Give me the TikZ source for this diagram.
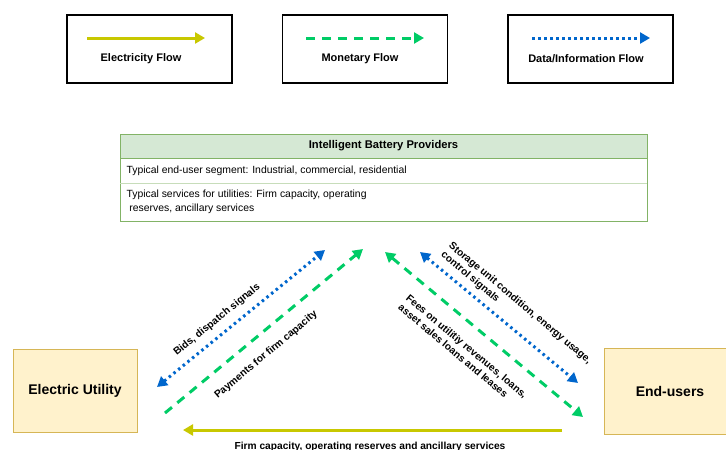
\documentclass[tikz,border=0pt]{standalone}
\usepackage{fontspec}
\setmainfont{Liberation Sans}
\usetikzlibrary{positioning, arrows.meta}
\definecolor{powerline}{HTML}{C8C800}
\definecolor{moneyline}{HTML}{00CC66}
\definecolor{dataline}{HTML}{0066CC}
\definecolor{sagefill}{HTML}{D5E8D4}
\definecolor{sageedge}{HTML}{82B366}
\definecolor{sandfill}{HTML}{FFF2CC}
\definecolor{sandedge}{HTML}{D6B656}

\tikzset{
  tip/.tip={Triangle[length=10pt, width=11pt]},
  elecflow/.style={powerline, line width=3pt},
  moneyflow/.style={moneyline, line width=3pt, dash pattern=on 9pt off 7pt},
  dataflow/.style={dataline, line width=3pt, dash pattern=on 2.5pt off 3.5pt},
  keybox/.style={draw=black, line width=1.4pt, minimum width=165pt, minimum height=68pt},
  keylabel/.style={font=\fontsize{11}{13}\selectfont\bfseries},
  actor/.style={draw=sandedge, fill=sandfill, line width=0.8pt, font=\fontsize{14}{16}\selectfont\bfseries},
  flowlabel/.style={font=\fontsize{10.2}{12}\selectfont\bfseries, align=left},
}

\begin{document}
\begin{tikzpicture}[x=1pt, y=-1pt]
\useasboundingbox (0,0) rectangle (726,450);

%--- KEY (three legend boxes)
\node[keybox] (elecKey)  at (149.5,49) {};
\node[keybox] (moneyKey) at (365,49)   {};
\node[keybox] (dataKey)  at (590.5,49) {};

\coordinate (elecKeyA)  at (87,38);   \coordinate (elecKeyB)  at (205,38);
\coordinate (moneyKeyA) at (306,38);  \coordinate (moneyKeyB) at (424,38);
\coordinate (dataKeyA)  at (532,38);  \coordinate (dataKeyB)  at (650,38);

\draw[elecflow, -tip]  (elecKeyA)  -- (elecKeyB);
\draw[moneyflow, -tip] (moneyKeyA) -- (moneyKeyB);
\draw[dataflow, -tip]  (dataKeyA)  -- (dataKeyB);

\node[keylabel] (elecKeyTxt)  at (141,59) {Electricity Flow};
\node[keylabel] (moneyKeyTxt) at (360,59) {Monetary Flow};
\node[keylabel] (dataKeyTxt)  at (586,59) {Data/Information Flow};

%--- INTELLIGENT BATTERY PROVIDERS table
\fill[sagefill] (120,134) rectangle (647,158);
\draw[sageedge, line width=0.8pt] (120,134) rectangle (647,221);
\draw[sageedge, line width=0.8pt] (120,158) -- (647,158);
\draw[sageedge!45, line width=0.8pt] (120,183) -- (647,183);

\node[font=\fontsize{11.2}{13}\selectfont\bfseries] (ibp) at (383.5,146) {Intelligent Battery Providers};
\node[font=\fontsize{10.4}{12}\selectfont, anchor=west] (ibpSeg) at (123,170.5)
  {Typical end-user segment: Industrial, commercial, residential};
\node[font=\fontsize{10.4}{14}\selectfont, anchor=west, align=left] (ibpSrv) at (123,201.5)
  {Typical services for utilities: Firm capacity, operating\\\ reserves, ancillary services};

%--- ACTORS
\node[actor, minimum width=124pt, minimum height=83pt] (utility) at (75,390.5) {Electric Utility};
\node[actor, minimum width=132pt, minimum height=86pt] (users)   at (670,391)   {End-users};

%--- FLOWS: utility <-> battery providers
\coordinate (utilData)  at (157,387);  \coordinate (ibpDataL)  at (325,250);
\coordinate (utilMoney) at (165,413);  \coordinate (ibpMoneyL) at (363,249);

\draw[dataflow, tip-tip] (utilData) -- (ibpDataL);
\draw[moneyflow, -tip]   (utilMoney) -- (ibpMoneyL);

\node[flowlabel, rotate=39] (bidTxt) at (217,320) {Bids, dispatch signals};
\node[flowlabel, rotate=40] (payTxt) at (266,355) {Payments for firm capacity};

%--- FLOWS: battery providers <-> end-users
\coordinate (ibpDataR)  at (420,252);  \coordinate (userData)  at (578,383);
\coordinate (ibpMoneyR) at (385,252);  \coordinate (userMoney) at (583,417);

\draw[dataflow, tip-tip]  (ibpDataR) -- (userData);
\draw[moneyflow, tip-tip] (ibpMoneyR) -- (userMoney);

\node[flowlabel, rotate=-40] (storeTxt) at (516,308)
  {Storage unit condition, energy usage,\\control signals};
\node[flowlabel, rotate=-40] (feeTxt) at (463,351)
  {Fees on utilitiy revenues, loans,\\asset sales loans and leases};

%--- FLOW: end-users -> utility (electricity)
\coordinate (userElec) at (562,430);  \coordinate (utilElec) at (183,430);
\draw[elecflow, -tip] (userElec) -- (utilElec);
\node[flowlabel] (firmTxt) at (370,447) {Firm capacity, operating reserves and ancillary services};

\end{tikzpicture}
\end{document}
